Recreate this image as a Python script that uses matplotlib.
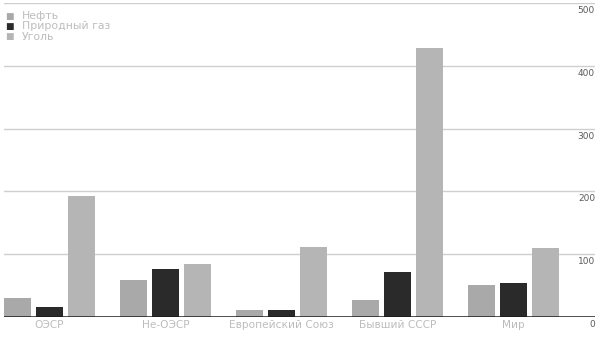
import numpy as np
import matplotlib.pyplot as plt
from matplotlib.transforms import blended_transform_factory, offset_copy

# Categories and series values
regions = ["ОЭСР", "Не-ОЭСР", "Европейский Союз", "Бывший СССР", "Мир"]
oil = [30, 58, 10, 27, 51]
gas = [16, 76, 10, 71, 54]
coal = [193, 84, 111, 429, 110]

series_names = ["Нефть", "Природный газ", "Уголь"]
y_ticks = [0, 100, 200, 300, 400, 500]

COLORS = ["#a9a9a9", "#2a2a2a", "#b5b5b5"]
TEXT_COLOR = "#bdbdbd"

fig = plt.figure(figsize=(6.0, 3.4), dpi=100)
# axes spans from x=4px to x=595px, y from 0 at 316.7px to 500 at 3.3px
ax = fig.add_axes([4 / 600, (340 - 316.7) / 340, 591 / 600, 313.4 / 340])

x = np.arange(len(regions))
width = 0.235
step = 0.275
for i, (vals, col) in enumerate(zip([oil, gas, coal], COLORS)):
    ax.bar(x + (i - 1) * step, vals, width=width, color=col, zorder=3)

ax.set_ylim(0, 500)
left = -(49.5 - 4) / 116
ax.set_xlim(left, left + 591 / 116)

# gridlines
for t in y_ticks[1:]:
    ax.axhline(t, color="#cfcfcf", linewidth=1.0, zorder=1)
ax.axhline(0, color="#1a1a1a", linewidth=1.8, zorder=4)

for s in ax.spines.values():
    s.set_visible(False)
ax.set_yticks([])
ax.set_xticks(x)
ax.set_xticklabels(regions, color=TEXT_COLOR, fontsize=7.6)
ax.tick_params(axis="x", length=0, pad=2.5)

# right-side tick labels sit just below each gridline
trans = offset_copy(blended_transform_factory(ax.transAxes, ax.transData),
                    fig=fig, y=-3, units="dots")
for t in y_ticks:
    ax.text(1.0, t, str(t), transform=trans, ha="right", va="top",
            fontsize=6.5, color="#5a5a5a")

# legend in upper-left
for i, (name, col) in enumerate(zip(series_names, COLORS)):
    yy = 1 - (16 + i * 10.3) / 340
    fig.text(5 / 600, yy, "\u25A0", color=col, fontsize=6.5, va="center", ha="left")
    fig.text(22 / 600, yy, name, color=TEXT_COLOR, fontsize=7.8, va="center", ha="left")

fig.savefig("out.png", dpi=100)
